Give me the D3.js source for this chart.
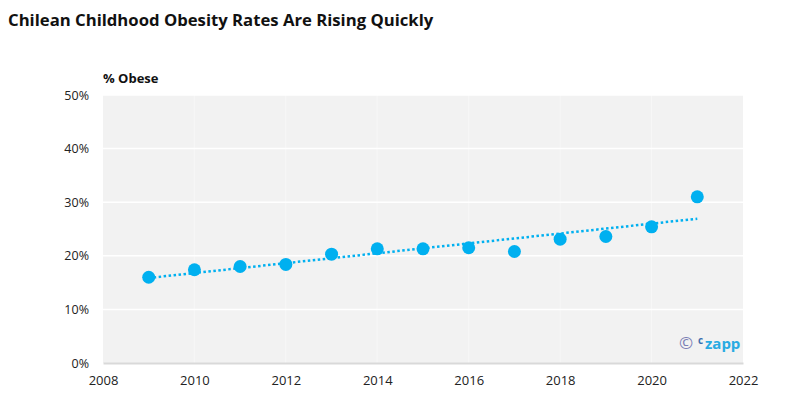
<!DOCTYPE html>
<html>
<head>
<meta charset="utf-8">
<script src="https://cdn.jsdelivr.net/npm/d3@7"></script>
<style>
body{margin:0;background:#fff;}
text{font-family:"Open Sans",sans-serif;}
</style>
</head>
<body>
<div id="chart"></div>
<script>
// data
var years = [2009,2010,2011,2012,2013,2014,2015,2016,2017,2018,2019,2020,2021];
var obese = [16.0,17.4,18.0,18.4,20.3,21.3,21.3,21.5,20.8,23.1,23.6,25.4,31.0];
var xTicks = [2008,2010,2012,2014,2016,2018,2020,2022];
var yTicks = [0,10,20,30,40,50];

var width = 791, height = 408;
var plotLeft = 103, plotRight = 743, plotTop = 95, plotBottom = 363;
var blue = '#00b0f0';

var svg = d3.select('#chart').append('svg')
	.attr('width',width)
	.attr('height',height);

var x = d3.scaleLinear().domain([2008,2022]).range([plotLeft,plotRight]);
var y = d3.scaleLinear().domain([0,50]).range([plotBottom,plotTop]);

//title
svg.append('text')
	.attr('x',8).attr('y',26)
	.style('font-size','16.7px').style('font-weight','bold')
	.style('fill','#111')
	.text('Chilean Childhood Obesity Rates Are Rising Quickly');

svg.append('text')
	.attr('x',plotLeft).attr('y',83)
	.style('font-size','13px').style('font-weight','bold')
	.style('fill','#111')
	.text('% Obese');

//plot area
svg.append('rect')
	.attr('x',plotLeft).attr('y',plotTop)
	.attr('width',plotRight-plotLeft).attr('height',plotBottom-plotTop)
	.style('fill','#f2f2f2');

//grid
svg.append('g').selectAll('line').data(xTicks.slice(1,-1)).join('line')
	.attr('x1',d=>x(d)).attr('x2',d=>x(d))
	.attr('y1',plotTop).attr('y2',plotBottom)
	.style('stroke','#f7f7f7').style('stroke-width',1);
svg.append('g').selectAll('line').data(yTicks.slice(1)).join('line')
	.attr('x1',plotLeft).attr('x2',plotRight)
	.attr('y1',d=>y(d)).attr('y2',d=>y(d))
	.style('stroke','#fff').style('stroke-width',1.5);

//axes
var xAxis = svg.append('g')
	.attr('transform','translate(0,'+plotBottom+')')
	.call(d3.axisBottom(x).tickValues(xTicks).tickFormat(d3.format('d')).tickSize(0).tickPadding(13));
xAxis.select('.domain').style('stroke','#d9d9d9').style('stroke-width',2);
xAxis.selectAll('text').style('font-size','13px').style('fill','#222').style('font-family','"Open Sans",sans-serif');

var yAxis = svg.append('g')
	.attr('transform','translate('+plotLeft+',0)')
	.call(d3.axisLeft(y).tickValues(yTicks).tickFormat(d=>d+'%').tickSize(0).tickPadding(14));
yAxis.select('.domain').remove();
yAxis.selectAll('text').style('font-size','12.5px').style('fill','#222').style('font-family','"Open Sans",sans-serif');

//trend line (least squares)
var n = years.length;
var mx = d3.mean(years), my = d3.mean(obese);
var sxy = d3.sum(years, (d,i)=>(d-mx)*(obese[i]-my));
var sxx = d3.sum(years, d=>(d-mx)*(d-mx));
var slope = sxy/sxx, icpt = my-slope*mx;
var ends = [years[0], years[n-1]];
svg.append('path')
	.attr('d', d3.line().x(d=>x(d)).y(d=>y(icpt+slope*d))(ends))
	.style('fill','none').style('stroke',blue)
	.style('stroke-width',2.5).style('stroke-dasharray','2.5 2.5');

//points
svg.append('g').selectAll('circle').data(years).join('circle')
	.attr('cx',d=>x(d)).attr('cy',(d,i)=>y(obese[i]))
	.attr('r',6.5)
	.style('fill',blue);

//logo
svg.append('text')
	.attr('x',679).attr('y',349)
	.style('font-size','17px').style('fill','#7b7fb5')
	.text('\u00a9');
svg.append('text')
	.attr('x',698).attr('y',344)
	.style('font-size','10px').style('fill','#3a6fb0').style('font-weight','bold')
	.text('c');
svg.append('text')
	.attr('x',705).attr('y',349)
	.style('font-size','15px').style('fill','#29abe2').style('font-weight','bold')
	.text('zapp');
</script>
</body>
</html>
